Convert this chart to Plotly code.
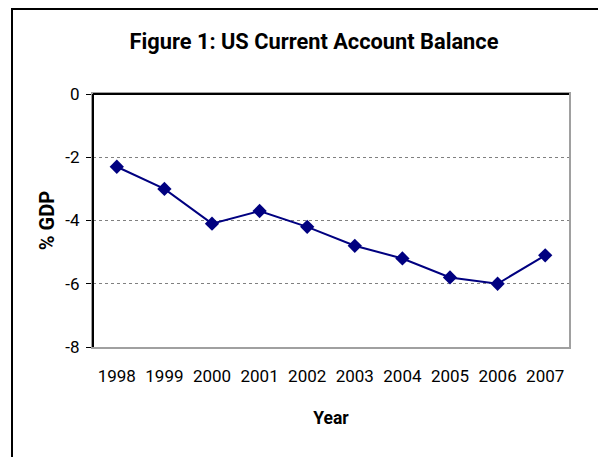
import plotly.graph_objects as go

years = ["1998", "1999", "2000", "2001", "2002", "2003", "2004", "2005", "2006", "2007"]
balance = [-2.3, -3.0, -4.1, -3.7, -4.2, -4.8, -5.2, -5.8, -6.0, -5.1]
y_ticks = [0, -2, -4, -6, -8]
y_labels = ["0", "-2", "-4", "-6", "-8"]

FONT = "Roboto, Liberation Sans, Arial, sans-serif"
OFF = 8  # page body margin
W, H = 606 - OFF, 457 - OFF
L, R, T, B = 93 - OFF, 37, 94 - OFF, 110
pw, ph = W - L - R, H - T - B


def px(x):
    return (x - OFF - L) / pw


def py(y):
    return (H - B - (y - OFF)) / ph


fig = go.Figure(go.Scatter(
    x=years,
    y=balance,
    mode="lines+markers",
    line=dict(color="#000080", width=2),
    marker=dict(symbol="diamond", size=11, color="#000080"),
))

fig.update_layout(
    width=W,
    height=H,
    margin=dict(l=L, r=R, t=T, b=B),
    plot_bgcolor="white",
    paper_bgcolor="white",
    showlegend=False,
    font=dict(family=FONT, color="black", size=17),
    title=dict(
        text="<b>Figure 1: US Current Account Balance</b>",
        x=(314 - OFF) / W, xanchor="center",
        y=1 - (41 - OFF) / H, yanchor="middle",
        font=dict(size=21.8, family=FONT, color="black"),
    ),
)

fig.update_xaxes(
    type="category",
    range=[-0.5, 9.5],
    showgrid=False,
    zeroline=False,
    showline=True, linecolor="#a0a0a0", linewidth=2, mirror=True,
    ticks="",
    ticklabelstandoff=13,
    title=dict(text="<b>Year</b>", font=dict(size=17.5), standoff=26),
)

fig.update_yaxes(
    range=[-8, 0],
    tickvals=y_ticks,
    ticktext=y_labels,
    showgrid=True, gridcolor="#808080", gridwidth=1, griddash="dot",
    zeroline=False,
    showline=True, linecolor="#a0a0a0", linewidth=2, mirror=True,
    ticks="outside", ticklen=5, tickcolor="black", tickwidth=1,
    ticklabelstandoff=3,
    title=dict(text="<b>% GDP</b>", font=dict(size=20), standoff=5),
)

# black axis lines along top (category axis crossing at 0) and left
fig.add_shape(type="line", xref="paper", yref="paper", x0=0, x1=1, y0=1, y1=1,
              line=dict(color="black", width=2))
fig.add_shape(type="line", xref="paper", yref="paper", x0=0, x1=0, y0=0, y1=1,
              line=dict(color="black", width=2))

# outer chart frame (cut off at right and bottom)
fig.add_shape(type="rect", xref="paper", yref="paper",
              x0=px(12), x1=px(620),
              y0=py(470), y1=py(9),
              line=dict(color="black", width=2))

fig.write_html("out.html")
